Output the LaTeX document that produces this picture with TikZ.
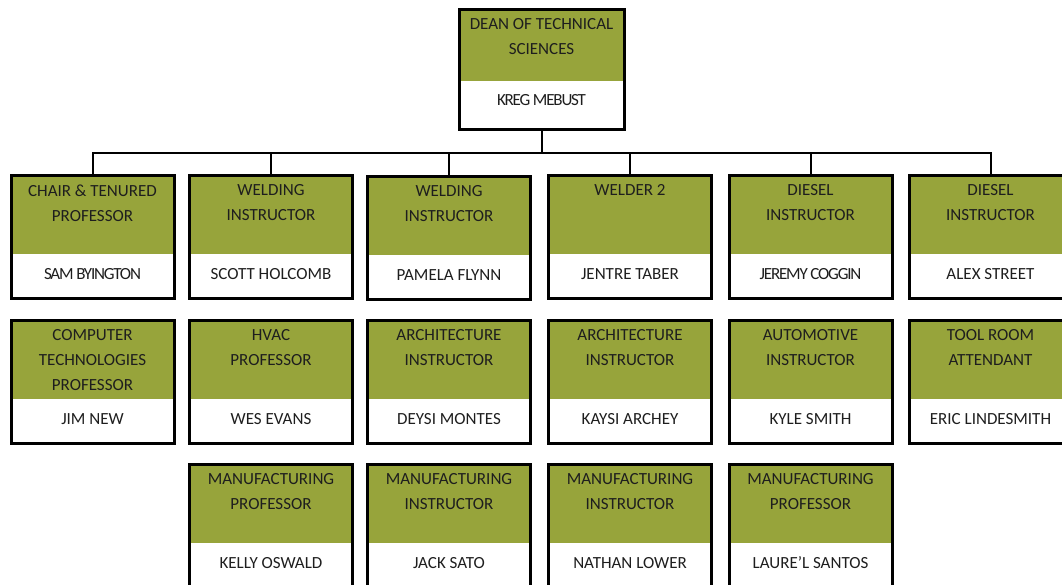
\documentclass[tikz,border=0pt]{standalone}
\usepackage{fontspec}
\setmainfont{Carlito}
\newfontfamily\tightfont[LetterSpace=-7]{Carlito}
\usepackage{tikz}

\definecolor{olivecell}{RGB}{151,164,59}
\definecolor{inkcolor}{RGB}{30,30,30}

\tikzset{
  orgbox/.style={draw=black, line width=3pt, fill=white, anchor=north,
    minimum width=163pt, minimum height=123pt, inner sep=0pt,
    text height=85pt, text depth=0pt, text=inkcolor,
    font=\fontsize{17pt}{25pt}\selectfont,
    path picture={\fill[olivecell] (path picture bounding box.north west)
      rectangle ([yshift=-#1]path picture bounding box.north east);}},
  orgbox/.default=79pt,
  deanbox/.style={orgbox=72pt, minimum width=165pt, minimum height=120pt, text height=73pt},
  titletext/.style={anchor=north, yshift=-11pt, inner sep=0pt, align=center,
    text=inkcolor, font=\fontsize{17pt}{25pt}\selectfont},
  conn/.style={line width=2pt, black}
}

\begin{document}
\begin{tikzpicture}[x=1pt,y=-1pt]
\useasboundingbox (0,0) rectangle (1062,584);
%dean
\node[deanbox, label={[titletext]north:DEAN OF TECHNICAL\\SCIENCES}] at (541.5,7.5) (Dean) {\tightfont KREG MEBUST};
%first row
\node[orgbox, label={[titletext]north:CHAIR \& TENURED\\PROFESSOR}] at (92.5,173.5) (Chair) {\tightfont SAM BYINGTON};
\node[orgbox, label={[titletext]north:WELDING\\INSTRUCTOR}] at (271,173.5) (WeldA) {SCOTT HOLCOMB};
\node[orgbox, label={[titletext]north:WELDING\\INSTRUCTOR}] at (449,174.5) (WeldB) {PAMELA FLYNN};
\node[orgbox, label={[titletext]north:WELDER 2}] at (630,173.5) (Welder) {JENTRE TABER};
\node[orgbox, label={[titletext]north:DIESEL\\INSTRUCTOR}] at (810.5,173.5) (DieselA) {\tightfont JEREMY COGGIN};
\node[orgbox, label={[titletext]north:DIESEL\\INSTRUCTOR}] at (990.5,173.5) (DieselB) {ALEX STREET};
%second row
\node[orgbox, label={[titletext]north:COMPUTER\\TECHNOLOGIES\\PROFESSOR}] at (92.5,318.5) (CompTech) {JIM NEW};
\node[orgbox, label={[titletext]north:HVAC\\PROFESSOR}] at (271,318.5) (Hvac) {WES EVANS};
\node[orgbox, label={[titletext]north:ARCHITECTURE\\INSTRUCTOR}] at (449,318.5) (ArchA) {DEYSI MONTES};
\node[orgbox, label={[titletext]north:ARCHITECTURE\\INSTRUCTOR}] at (630,318.5) (ArchB) {KAYSI ARCHEY};
\node[orgbox, label={[titletext]north:AUTOMOTIVE\\INSTRUCTOR}] at (810.5,318.5) (Auto) {KYLE SMITH};
\node[orgbox, label={[titletext]north:TOOL ROOM\\ATTENDANT}] at (990.5,318.5) (ToolRoom) {ERIC LINDESMITH};
%third row
\node[orgbox, label={[titletext]north:MANUFACTURING\\PROFESSOR}] at (271,462.5) (ManufA) {KELLY OSWALD};
\node[orgbox, label={[titletext]north:MANUFACTURING\\INSTRUCTOR}] at (449,462.5) (ManufB) {JACK SATO};
\node[orgbox, label={[titletext]north:MANUFACTURING\\INSTRUCTOR}] at (630,462.5) (ManufC) {NATHAN LOWER};
\node[orgbox, label={[titletext]north:MANUFACTURING\\PROFESSOR}] at (810.5,462.5) (ManufD) {LAURE’L SANTOS};
%connectors
\coordinate (Bus) at (Dean.south |- 0,153);
\draw[conn] (Dean.south) -- (Bus);
\draw[conn] (Bus) -| (Chair.north);
\draw[conn] (Bus) -| (WeldA.north);
\draw[conn] (Bus) -| (WeldB.north);
\draw[conn] (Bus) -| (Welder.north);
\draw[conn] (Bus) -| (DieselA.north);
\draw[conn] (Bus) -| (DieselB.north);
\end{tikzpicture}
\end{document}
